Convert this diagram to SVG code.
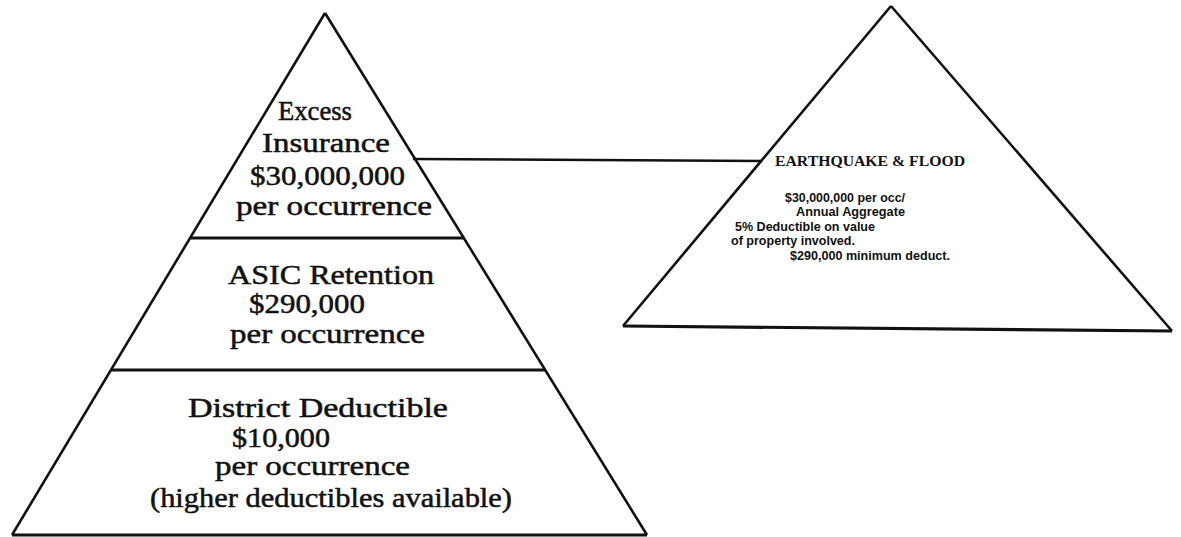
<svg xmlns="http://www.w3.org/2000/svg" width="1181" height="537" viewBox="0 0 1181 537">
<style>
.edge{fill:none;stroke:#111;stroke-width:2.6;stroke-linejoin:round}
.base{stroke:#111;stroke-width:3.2}
.big{font-family:"Liberation Serif","Times New Roman",serif;font-size:27px;fill:#111;stroke:#111;stroke-width:0.5}
.small{font-family:"Liberation Sans",Arial,sans-serif;font-size:12.5px;font-weight:bold;fill:#111}
.cap{font-family:"Liberation Serif","Times New Roman",serif;font-size:14px;font-weight:bold;fill:#111}
</style>
<rect width="1181" height="537" fill="#ffffff"/>
<g id="coverage-pyramid">
<path class="edge" d="M325,13 L12,535 M325,13 L647,535"/>
<line class="base" x1="12" y1="535" x2="647" y2="535"/>
<line class="base" x1="190" y1="238" x2="464" y2="238"/>
<line class="base" x1="111" y1="370" x2="546" y2="370"/>
</g>
<g id="excess-insurance">
<text class="big" x="278" y="120" textLength="74" lengthAdjust="spacingAndGlyphs">Excess</text>
<text class="big" x="262" y="152" textLength="128" lengthAdjust="spacingAndGlyphs">Insurance</text>
<text class="big" x="250" y="185" textLength="155" lengthAdjust="spacingAndGlyphs">$30,000,000</text>
<text class="big" x="236" y="215" textLength="196" lengthAdjust="spacingAndGlyphs">per occurrence</text>
</g>
<g id="asic-retention">
<text class="big" x="228" y="284" textLength="206" lengthAdjust="spacingAndGlyphs">ASIC Retention</text>
<text class="big" x="249" y="313" textLength="116" lengthAdjust="spacingAndGlyphs">$290,000</text>
<text class="big" x="230" y="343" textLength="195" lengthAdjust="spacingAndGlyphs">per occurrence</text>
</g>
<g id="district-deductible">
<text class="big" x="188" y="417" textLength="260" lengthAdjust="spacingAndGlyphs">District Deductible</text>
<text class="big" x="232" y="447" textLength="98" lengthAdjust="spacingAndGlyphs">$10,000</text>
<text class="big" x="215" y="475" textLength="195" lengthAdjust="spacingAndGlyphs">per occurrence</text>
<text class="big" x="150" y="507" textLength="362" lengthAdjust="spacingAndGlyphs">(higher deductibles available)</text>
</g>
<g id="earthquake-flood">
<path class="edge" d="M891,6 L623,326 M891,6 L1172,331"/>
<line class="base" x1="623" y1="326" x2="1172" y2="331"/>
<text class="cap" x="775" y="166" textLength="190" lengthAdjust="spacingAndGlyphs">EARTHQUAKE &amp; FLOOD</text>
<text class="small" x="785" y="202" textLength="120" lengthAdjust="spacingAndGlyphs">$30,000,000 per occ/</text>
<text class="small" x="796" y="216" textLength="109" lengthAdjust="spacingAndGlyphs">Annual Aggregate</text>
<text class="small" x="735" y="231" textLength="140" lengthAdjust="spacingAndGlyphs">5% Deductible on value</text>
<text class="small" x="731" y="245" textLength="124" lengthAdjust="spacingAndGlyphs">of property involved.</text>
<text class="small" x="790" y="260" textLength="160" lengthAdjust="spacingAndGlyphs">$290,000 minimum deduct.</text>
</g>
<g id="connectors">
<line x1="413" y1="159" x2="762" y2="161" stroke="#111" stroke-width="2.6"/>
</g>
</svg>
